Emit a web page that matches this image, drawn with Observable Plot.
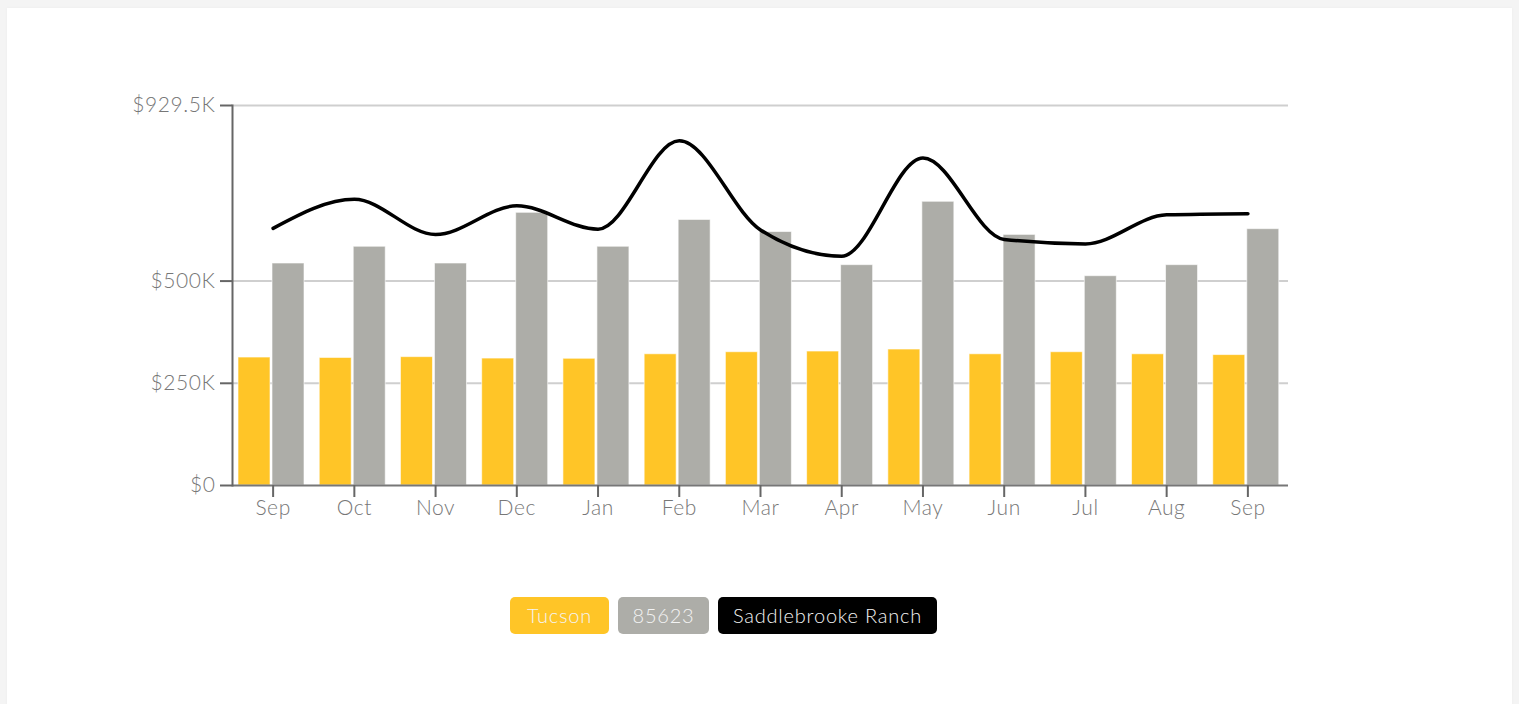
<!DOCTYPE html>
<html><head><meta charset="utf-8">
<script src="https://cdn.jsdelivr.net/npm/d3@7"></script>
<script src="https://cdn.jsdelivr.net/npm/@observablehq/plot@0.6"></script>
<style>
body{margin:0;background:#f4f4f4;font-family:Lato,"Open Sans",sans-serif;overflow:hidden;}
#panel{position:absolute;left:7px;top:8px;width:1505px;height:720px;background:#fff;box-shadow:0 0 3px rgba(0,0,0,0.04);}
#chart{position:absolute;left:0;top:0;}
#chart text{letter-spacing:0.6px;}
#legend{position:absolute;left:503px;top:589px;display:flex;gap:9px;}
.item{height:37px;line-height:37px;text-align:center;border-radius:5px;color:#f4f4f4;font-size:20px;font-weight:300;letter-spacing:0.8px;}
</style></head><body>
<div id="panel"><div id="chart"></div><div id="legend"></div></div>
<script>
const months = ["Sep","Oct","Nov","Dec","Jan","Feb","Mar","Apr","May","Jun","Jul","Aug","Sep"];
const tucson = [313000,312000,314000,310500,310000,321000,326000,327700,332600,321000,326000,321000,319000];
const zip85623 = [543000,584000,543000,667000,584000,649500,620000,539000,694000,613000,512000,539000,627000];
const ranch = [629000,700000,614000,684000,627000,843000,625000,561000,801000,602000,591000,662000,665000];
const yTicks = [0,250000,500000,929500];
const yTickLabels = ["$0","$250K","$500K","$929.5K"];
const seriesNames = ["Tucson","85623","Saddlebrooke Ranch"];
const seriesColors = ["#FFC527","#ADADA8","#000000"];
const legendWidths = [99,91,219];

const data = months.map((m,i)=>({i, month:m, tucson:tucson[i], zip:zip85623[i], ranch:ranch[i]}));

const W = 1505, H = 540, mL = 225, mR = 224, mT = 97, mB = 63;
const bw = (W - mL - mR) / months.length;
const barW = 32, gapOuter = 6, gapInner = 2;

const fontStyle = {fontSize: 21, fontFamily: "Lato, 'Open Sans', sans-serif", fontWeight: 300};

const chart = Plot.plot({
  width: W, height: H,
  marginLeft: mL, marginRight: mR, marginTop: mT, marginBottom: mB,
  style: {background: "transparent", overflow: "visible"},
  x: {type: "band", domain: d3.range(months.length), padding: 0, round: false},
  y: {domain: [0, 929500]},
  marks: [
    Plot.gridY(yTicks.slice(1), {stroke: "#cfcfcf", strokeOpacity: 1, strokeWidth: 2}),
    Plot.barY(data, {x: "i", y: "tucson", fill: seriesColors[0], stroke: "#fff", strokeOpacity: 0.6, strokeWidth: 1,
      insetLeft: gapOuter, insetRight: bw - gapOuter - barW}),
    Plot.barY(data, {x: "i", y: "zip", fill: seriesColors[1], stroke: "#fff", strokeOpacity: 0.6, strokeWidth: 1,
      insetLeft: gapOuter + barW + gapInner, insetRight: bw - gapOuter - 2*barW - gapInner}),
    Plot.lineY(data, {x: "i", y: "ranch", curve: "monotone-x", stroke: seriesColors[2], strokeWidth: 3.5}),
    Plot.ruleY([0], {stroke: "#777", strokeWidth: 2}),
    Plot.frame({anchor: "left", stroke: "#666", strokeWidth: 2}),
    Plot.axisY(yTicks, {tickFormat: (d,i) => yTickLabels[yTicks.indexOf(d)], tickSize: 12, tickPadding: 5,
      stroke: "#666", strokeWidth: 2, fill: "#777", label: null, ...fontStyle}),
    Plot.axisX({tickFormat: i => months[i], tickSize: 12, tickPadding: 3,
      stroke: "#666", strokeWidth: 2, fill: "#777", label: null, ...fontStyle})
  ]
});
document.getElementById("chart").appendChild(chart);

const legend = document.getElementById("legend");
seriesNames.forEach((n,k)=>{
  const d = document.createElement("div");
  d.className = "item";
  d.style.background = seriesColors[k];
  d.style.width = legendWidths[k] + "px";
  d.textContent = n;
  legend.appendChild(d);
});
</script>
</body></html>
